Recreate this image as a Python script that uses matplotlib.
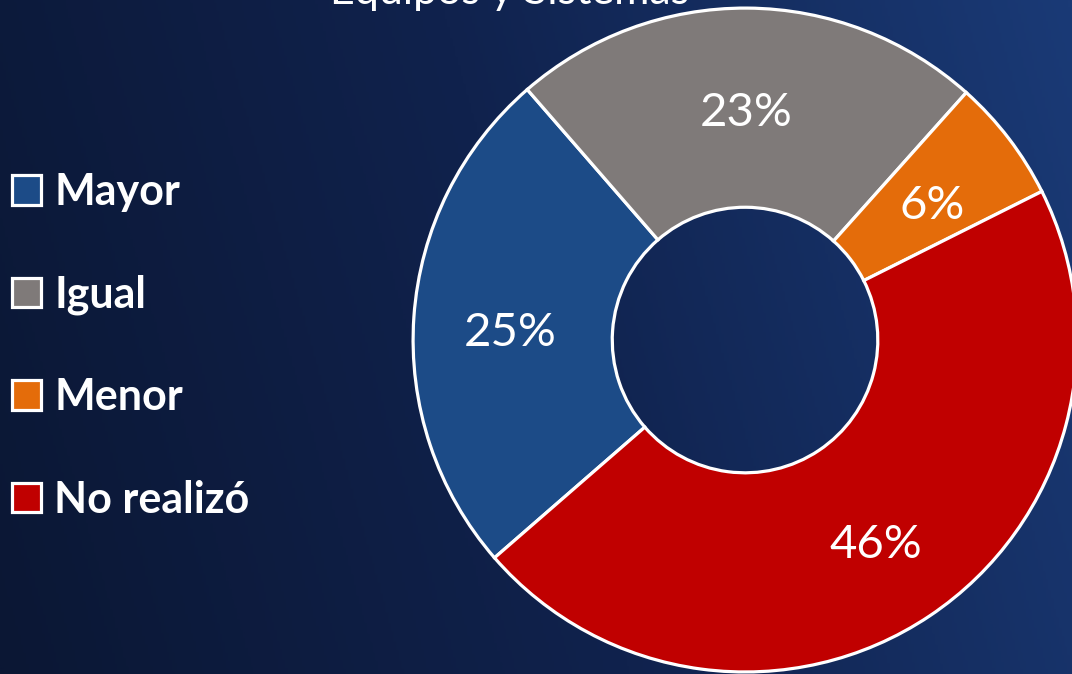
import numpy as np
import matplotlib.pyplot as plt
from matplotlib.colors import LinearSegmentedColormap
from matplotlib.transforms import offset_copy

# data
categories = ['Mayor', 'Igual', 'Menor', 'No realizó']
values = [25, 23, 6, 46]
colors = ['#1C4B87', '#7F7A79', '#E46C0A', '#C00000']
title = 'Equipos y Sistemas'

plt.rcParams['font.family'] = ['Lato', 'DejaVu Sans']

fig = plt.figure(figsize=(10.72, 6.74), dpi=100)

# dark navy gradient background
bg = fig.add_axes([0, 0, 1, 1], zorder=0)
bg_cmap = LinearSegmentedColormap.from_list('bg', ['#0B1734', '#10224D', '#1A3A76'])
gx = np.linspace(0, 1, 400)
gy = np.linspace(0, 1, 250)
grad = gx[None, :] * 0.85 + (1 - gy[:, None]) * 0.15
bg.imshow(grad, cmap=bg_cmap, aspect='auto', extent=[0, 1, 0, 1], origin='upper')
bg.axis('off')

# donut
ax = fig.add_axes([0.3853, 0.003, 0.6194, 0.985], zorder=1)
ax.patch.set_alpha(0)
wedges, texts, autotexts = ax.pie(
    values, colors=colors, startangle=221, counterclock=False,
    radius=1, autopct='%1.0f%%', pctdistance=0.71,
    wedgeprops=dict(width=0.6, edgecolor='white', linewidth=2.3),
    textprops=dict(color='white', fontsize=34))
# nudge the percent labels down a little
for t in autotexts:
    t.set_transform(offset_copy(t.get_transform(), fig=fig, y=-9, units='dots'))
ax.set_xlim(-1, 1)
ax.set_ylim(-1, 1)
ax.set_aspect('equal')

fig.text(510 / 1072, 1 - 4 / 674, title, color='white', fontsize=31,
         ha='center', va='baseline', zorder=2)

leg = fig.legend(wedges, categories, loc='upper left',
                 bbox_to_anchor=(12 / 1072, 1 - 172 / 674),
                 frameon=False, labelcolor='white',
                 handlelength=0.68, handleheight=0.68, handletextpad=0.3,
                 labelspacing=1.45, borderpad=0, borderaxespad=0,
                 prop=dict(weight='bold', size=31))

fig.savefig('out.png', dpi=100)
